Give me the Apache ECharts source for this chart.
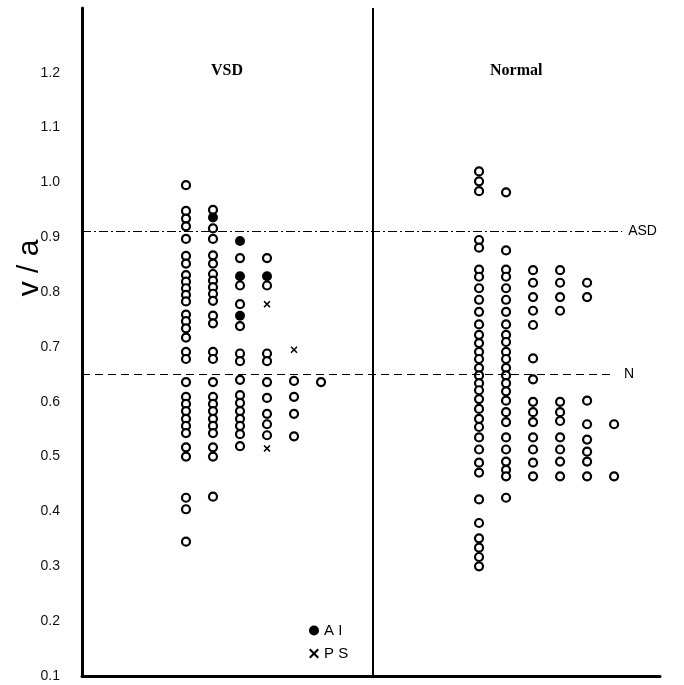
<!DOCTYPE html>
<html>
<head>
<meta charset="utf-8">
<script src="https://cdn.jsdelivr.net/npm/echarts@6/dist/echarts.min.js"></script>
<style>
html,body{margin:0;padding:0;background:#fff;}
#chart{width:684px;height:685px;}
</style>
</head>
<body>
<div id="chart"></div>
<script>
// ---- Data (v/a ratio values) ----
const groupNames = ['VSD', 'Normal'];
const yTickValues = [0.1, 0.2, 0.3, 0.4, 0.5, 0.6, 0.7, 0.8, 0.9, 1.0, 1.1, 1.2];

// VSD: open circles, one array per column
const vsdOpen = [
  [0.995,0.948,0.934,0.920,0.897,0.866,0.852,0.831,0.819,0.807,0.795,0.783,0.759,0.747,0.734,0.717,0.691,0.678,0.636,0.609,0.596,0.583,0.569,0.556,0.543,0.517,0.500,0.425,0.404,0.345],
  [0.950,0.916,0.897,0.867,0.852,0.833,0.821,0.809,0.797,0.784,0.757,0.743,0.691,0.678,0.636,0.609,0.596,0.583,0.569,0.556,0.543,0.517,0.500,0.427],
  [0.862,0.812,0.778,0.738,0.688,0.674,0.640,0.612,0.598,0.583,0.569,0.556,0.541,0.519],
  [0.862,0.812,0.688,0.674,0.636,0.607,0.578,0.559,0.539],
  [0.638,0.609,0.578,0.537],
  [0.636]
];
// VSD: AI (filled circles) per column
const vsdAI = [[], [0.936], [0.893,0.829,0.757], [0.829], [], []];
// VSD: PS (crosses) per column
const vsdPS = [[], [], [], [0.778,0.515], [0.695], []];

// Normal: open circles per column
const normalOpen = [
  [1.020,1.002,0.984,0.895,0.881,0.841,0.828,0.807,0.786,0.764,0.741,0.722,0.707,0.691,0.678,0.662,0.648,0.634,0.621,0.605,0.587,0.569,0.554,0.535,0.513,0.489,0.471,0.422,0.379,0.351,0.334,0.317,0.300],
  [0.982,0.876,0.841,0.828,0.807,0.786,0.764,0.741,0.722,0.709,0.691,0.678,0.662,0.648,0.634,0.619,0.602,0.581,0.563,0.535,0.513,0.491,0.476,0.464,0.425],
  [0.840,0.817,0.791,0.766,0.740,0.679,0.641,0.600,0.581,0.563,0.535,0.513,0.489,0.464],
  [0.840,0.817,0.791,0.766,0.600,0.581,0.565,0.535,0.513,0.491,0.464],
  [0.817,0.791,0.602,0.559,0.531,0.509,0.491,0.464],
  [0.559,0.464]
];

// Reference lines
const refLineNames = ['ASD', 'N'];
const refLineValues = [0.911, 0.650];

// ---- Layout (column slots on a hidden x scale) ----
const vsdStart = 3.85, normalStart = 14.7, dividerX = 10.78;
const xMax = 21.4, yMin = 0.1, yMax = 1.318;

function toPoints(cols, start) {
  const pts = [];
  cols.forEach((col, i) => col.forEach(v => pts.push([start + i, v])));
  return pts;
}

const openPts = toPoints(vsdOpen, vsdStart).concat(toPoints(normalOpen, normalStart));
const aiPts = toPoints(vsdAI, vsdStart);
const psPts = toPoints(vsdPS, vsdStart);

const crossPath = 'path://M1.5,0 L5,3.5 L8.5,0 L10,1.5 L6.5,5 L10,8.5 L8.5,10 L5,6.5 L1.5,10 L0,8.5 L3.5,5 L0,1.5 Z';

const chart = echarts.init(document.getElementById('chart'), null, {renderer: 'canvas'});

const option = {
  animation: false,
  backgroundColor: '#fff',
  grid: {left: 82, right: 24, top: 8, bottom: 9, containLabel: false},
  xAxis: {
    type: 'value', min: 0, max: xMax,
    axisLine: {show: true, onZero: false, lineStyle: {color: '#000', width: 3}},
    axisTick: {show: false}, axisLabel: {show: false}, splitLine: {show: false}
  },
  yAxis: {
    type: 'value', min: yMin, max: yMax, interval: 0.1,
    axisLine: {show: true, onZero: false, lineStyle: {color: '#000', width: 3}},
    axisTick: {show: false},
    splitLine: {show: false},
    axisLabel: {
      margin: 22, color: '#111', fontSize: 14, fontFamily: 'Liberation Sans',
      showMaxLabel: false,
      formatter: v => {
        const t = yTickValues.find(x => Math.abs(x - v) < 1e-6);
        return t === undefined ? '' : t.toFixed(1);
      }
    }
  },
  legend: {
    orient: 'vertical', left: 304, top: 618, itemGap: 8,
    itemWidth: 10, itemHeight: 10,
    data: [
      {name: 'AI', itemStyle: {opacity: 1, color: '#000'}},
      {name: 'PS', itemStyle: {opacity: 1, color: '#000'}}
    ],
    formatter: n => n.split('').join(' '),
    textStyle: {fontSize: 15, color: '#000', fontFamily: 'Liberation Sans'}
  },
  graphic: [
    {type: 'text', left: 229 - 18, top: 63, style: {text: groupNames[0], font: 'bold 16px "Liberation Serif"', fill: '#000'}},
    {type: 'text', left: 518 - 28, top: 63, style: {text: groupNames[1], font: 'bold 16px "Liberation Serif"', fill: '#000'}},
    {type: 'text', x: 30, y: 268, rotation: Math.PI / 2,
     style: {text: 'v / a', font: '30px "Liberation Sans"', fill: '#000', align: 'center', verticalAlign: 'middle'}}
  ],
  series: [
    {
      name: 'open', type: 'scatter', data: openPts,
      symbol: 'circle', symbolSize: 8,
      itemStyle: {color: '#fff', borderColor: '#000', borderWidth: 2.2, opacity: 1},
      silent: true, z: 3,
      markLine: {
        silent: true, symbol: ['none', 'none'], animation: false,
        data: [
          [
            {coord: [0, refLineValues[0]], lineStyle: {type: [9, 3, 2, 3], width: 1, color: '#000'},
             label: {show: true, position: 'end', formatter: refLineNames[0], distance: 6, fontSize: 14, color: '#000', fontFamily: 'Liberation Sans'}},
            {coord: [20.0, refLineValues[0]]}
          ],
          [
            {coord: [0, refLineValues[1]], lineStyle: {type: [8, 5], width: 1, color: '#000'},
             label: {show: true, position: 'end', formatter: refLineNames[1], distance: 14, fontSize: 14, color: '#000', fontFamily: 'Liberation Sans'}},
            {coord: [19.55, refLineValues[1]]}
          ],
          [
            {coord: [dividerX, yMin], lineStyle: {type: 'solid', width: 2, color: '#000'}, label: {show: false}},
            {coord: [dividerX, yMax]}
          ]
        ]
      }
    },
    {
      name: 'AI', type: 'scatter', data: aiPts,
      symbol: 'circle', symbolSize: 10,
      itemStyle: {color: '#000', opacity: 1}, z: 4
    },
    {
      name: 'PS', type: 'scatter', data: psPts,
      symbol: crossPath, symbolSize: 7,
      itemStyle: {color: '#000', opacity: 1}, z: 4
    }
  ]
};
chart.setOption(option);
</script>
</body>
</html>
